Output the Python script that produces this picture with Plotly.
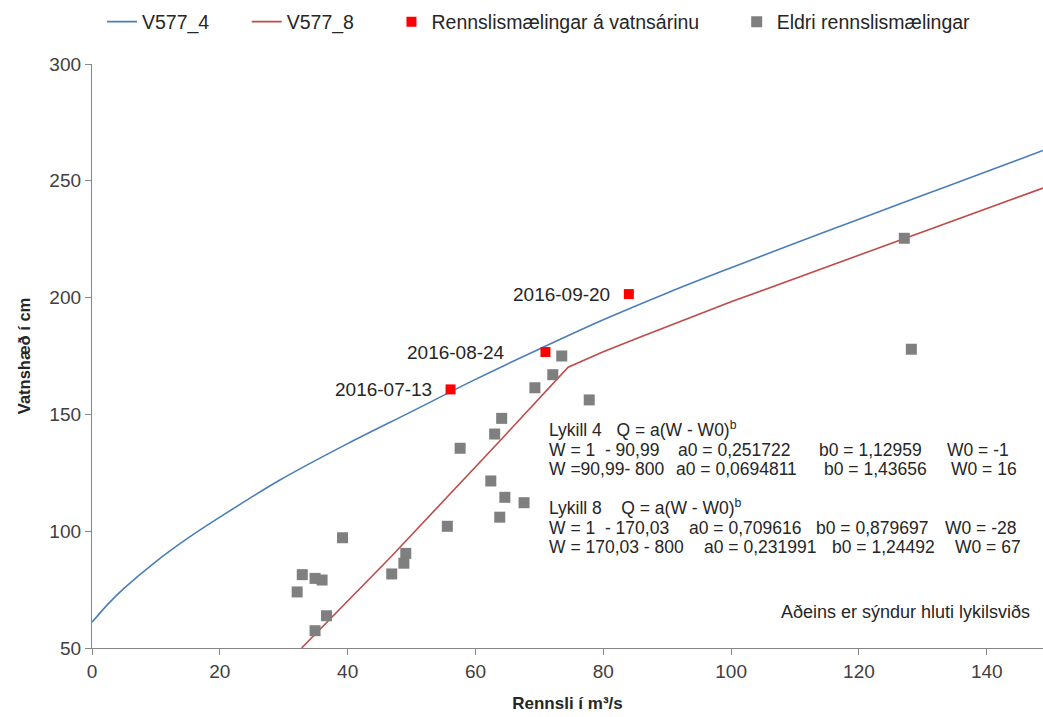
import plotly.graph_objects as go

# ---- data ----
v4_q = [0, 2.5, 5, 10, 15, 20, 29.4, 40, 50, 60, 70, 80, 90, 100, 110, 120, 130, 140, 148.8]
v4_h = [61, 68.8, 75.5, 87, 97, 106, 121.9, 137.5, 151.2, 165, 178, 190.5, 202, 212.8, 223.3, 233.5, 243.8, 254, 263]

v8_q = [32.8, 46.6, 64.1, 74.5, 80, 85.7, 100, 118.6, 127.1, 148.8]
v8_h = [50, 88.5, 139.5, 170.2, 176.8, 183, 198.2, 216.8, 225.2, 246.9]

new_q = [56.1, 70.95, 84.0]
new_h = [160.7, 176.7, 201.5]
new_dates = ["2016-07-13", "2016-08-24", "2016-09-20"]

old_q = [73.5, 72.1, 69.3, 77.8, 64.1, 63.0, 57.6, 62.4, 64.6, 67.6, 63.8, 55.6,
         39.2, 49.1, 48.8, 46.9, 32.9, 34.9, 36.0, 32.1, 36.7, 34.9, 127.1, 128.2]
old_h = [175.0, 167.0, 161.4, 156.2, 148.3, 141.6, 135.5, 121.5, 114.5, 112.2, 106.0, 102.1,
         97.2, 90.5, 86.3, 81.7, 81.4, 79.8, 79.1, 74.0, 63.8, 57.4, 225.4, 177.9]

x_ticks = [0, 20, 40, 60, 80, 100, 120, 140]
y_ticks = [50, 100, 150, 200, 250, 300]

series_names = ["V577_4", "V577_8", "Rennslismælingar á vatnsárinu", "Eldri rennslismælingar"]

FONT = "Liberation Sans, Arial, sans-serif"
TXT = "#262626"
AX = "#868686"
PAD = "\u00a0" * 6  # spacing between legend entries

fig = go.Figure()
fig.add_trace(go.Scatter(x=v4_q, y=v4_h, mode="lines", name=series_names[0] + PAD,
                         line=dict(color="#4a7ebb", width=1.6, shape="spline", smoothing=1.0)))
fig.add_trace(go.Scatter(x=v8_q, y=v8_h, mode="lines", name=series_names[1] + PAD,
                         line=dict(color="#be4b48", width=1.6)))
fig.add_trace(go.Scatter(x=new_q, y=new_h, mode="markers", name=series_names[2] + PAD,
                         marker=dict(symbol="square", size=10, color="#ff0000")))
fig.add_trace(go.Scatter(x=old_q, y=old_h, mode="markers", name=series_names[3],
                         marker=dict(symbol="square", size=11, color="#7f7f7f")))

# date labels next to the new measurements
shifts = [-17, -38, -17]
for q, h, d, s in zip(new_q, new_h, new_dates, shifts):
    fig.add_annotation(x=q, y=h, text=d, showarrow=False, xanchor="right", yanchor="middle",
                       xshift=s, font=dict(family=FONT, size=19, color=TXT))

# formula block: pieces placed at pixel positions (converted to data coords)
def px2x(px):
    return (px - 92.3) / 6.39

def py2y(py):
    return 50 + (648 - py) / 2.336

formula_rows = [
    (429, [(547, "Lykill 4   Q = a(W - W0)<sup>b</sup>")]),
    (450, [(547, "W = 1  - 90,99"), (676, "a0 = 0,251722"), (817, "b0 = 1,12959"), (945, "W0 = -1")]),
    (469, [(547, "W =90,99- 800"), (674, "a0 = 0,0694811"), (822, "b0 = 1,43656"), (949, "W0 = 16")]),
    (507, [(547, "Lykill 8    Q = a(W - W0)<sup>b</sup>")]),
    (528, [(547, "W = 1  - 170,03"), (687, "a0 = 0,709616"), (814, "b0 = 0,879697"), (943, "W0 = -28")]),
    (547, [(547, "W = 170,03 - 800"), (702, "a0 = 0,231991"), (830, "b0 = 1,24492"), (953, "W0 = 67")]),
]
for py, pieces in formula_rows:
    for px, t in pieces:
        fig.add_annotation(x=px2x(px), y=py2y(py), text=t, showarrow=False, xanchor="left",
                           yanchor="middle", font=dict(family=FONT, size=17.5, color=TXT))

fig.add_annotation(x=px2x(1032), y=py2y(612), text="Aðeins er sýndur hluti lykilsviðs",
                   showarrow=False, xanchor="right", yanchor="middle",
                   font=dict(family=FONT, size=18, color=TXT))

fig.update_layout(
    width=1043, height=717,
    margin=dict(l=92, r=0, t=64, b=69),
    paper_bgcolor="white", plot_bgcolor="white",
    font=dict(family=FONT, size=19, color="#404040"),
    showlegend=True,
    legend=dict(orientation="h", x=0.47, xanchor="center", y=1.072, yanchor="middle",
                font=dict(family=FONT, size=19.5, color=TXT), itemwidth=30,
                bgcolor="rgba(0,0,0,0)"),
    xaxis=dict(range=[0, 148.8], tickvals=x_ticks, showgrid=False, zeroline=False,
               showline=True, linecolor=AX, linewidth=1.3, ticks="outside", ticklen=6,
               tickcolor=AX, tickfont=dict(family=FONT, size=19, color="#404040"),
               title=dict(text="<b>Rennsli í m³/s</b>", font=dict(family=FONT, size=17, color=TXT),
                          standoff=16)),
    yaxis=dict(range=[50, 300], tickvals=y_ticks, showgrid=False, zeroline=False,
               showline=True, linecolor=AX, linewidth=1.3, ticks="outside", ticklen=6,
               tickcolor=AX, tickfont=dict(family=FONT, size=19, color="#404040"),
               title=dict(text="<b>Vatnshæð í cm</b>", font=dict(family=FONT, size=16.5, color=TXT),
                          standoff=14)),
)

fig.write_html("out.html")
